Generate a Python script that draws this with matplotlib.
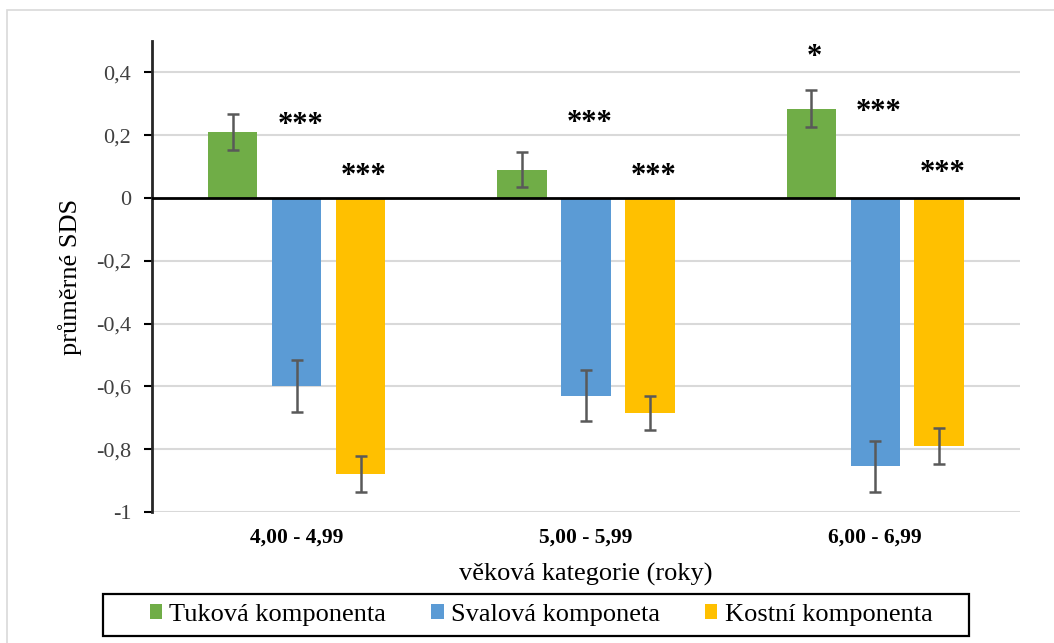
"""Mean SDS of body composition components by age category."""

import matplotlib

matplotlib.use("Agg")
import matplotlib.pyplot as plt
import matplotlib.transforms as mtransforms
import numpy as np
from matplotlib.patches import Patch, Rectangle
from matplotlib.ticker import FuncFormatter

categories = ["4,00 - 4,99", "5,00 - 5,99", "6,00 - 6,99"]
series = ["Tuková komponenta", "Svalová komponeta", "Kostní komponenta"]

fat = [0.21, 0.09, 0.284]
muscle = [-0.60, -0.63, -0.855]
bone = [-0.88, -0.686, -0.79]

fat_err = [0.057, 0.055, 0.059]
muscle_err = [0.083, 0.081, 0.081]
bone_err = [0.057, 0.054, 0.056]

# significance marks and the height they sit at
fat_sig = ["", "", "*"]
fat_sig_y = [0.0, 0.0, 0.47]
muscle_sig = ["***", "***", "***"]
muscle_sig_y = [0.252, 0.258, 0.293]
bone_sig = ["***", "***", "***"]
bone_sig_y = [0.09, 0.09, 0.10]

COLORS = ["#70AD47", "#5B9BD5", "#FFC000"]
SERIF = ["Liberation Serif", "DejaVu Serif"]
plt.rcParams["font.family"] = SERIF

fig = plt.figure(figsize=(10.54, 6.43), dpi=100)
fig.patch.set_facecolor("white")
ax = fig.add_axes([0.1442, 0.2037, 0.8235, 0.7325])

# light frame around the chart area
fig.add_artist(Rectangle((7 / 1054, -0.1), 1.2, 1 - 10 / 643 + 0.1, transform=fig.transFigure,
                         fill=False, edgecolor="#D9D9D9", lw=1.2))

x = np.arange(len(categories))
width = 0.171
offsets = [-0.221, 0.0, 0.221]
values = [fat, muscle, bone]
errors = [fat_err, muscle_err, bone_err]
marks = [fat_sig, muscle_sig, bone_sig]
mark_y = [fat_sig_y, muscle_sig_y, bone_sig_y]

for vals, errs, off, color in zip(values, errors, offsets, COLORS):
    ax.bar(x + off, vals, width, color=color, zorder=2)
    ax.errorbar(x + off, vals, yerr=errs, fmt="none", ecolor="#595959", elinewidth=1.8,
                capsize=4.3, capthick=1.8, zorder=3)

# stars are placed by their glyph centre, which sits about half an em above the baseline
STAR_SIZE = 22
star_tr = mtransforms.offset_copy(ax.transData, fig=fig, y=-0.47 * STAR_SIZE, units="points")
for labels, ys, off in zip(marks, mark_y, offsets):
    for xi, lab, yv in zip(x, labels, ys):
        if lab:
            ax.text(xi + off + 0.012, yv, lab, ha="center", va="baseline", fontsize=STAR_SIZE,
                    weight="bold", color="black", transform=star_tr, zorder=4)

ax.set_xlim(-0.5, 2.5)
ax.set_ylim(-1.0, 0.5)
yticks = [0.4, 0.2, 0.0, -0.2, -0.4, -0.6, -0.8, -1.0]
ax.set_yticks(yticks)
ax.yaxis.set_major_formatter(FuncFormatter(lambda v, _: f"{v:g}".replace(".", ",")))
for t in yticks:
    if t != 0:
        ax.axhline(t, color="#D9D9D9", lw=1.5, zorder=1)
ax.axhline(0, color="black", lw=2.0, zorder=3)

ax.set_xticks(x)
ax.set_xticklabels(categories, fontsize=15.5, weight="bold")
ax.tick_params(axis="x", length=0, pad=11)
ax.tick_params(axis="y", length=6, width=1.5, direction="out", pad=9, labelsize=16,
               labelcolor="#404040")

for side in ["top", "right", "bottom"]:
    ax.spines[side].set_visible(False)
ax.spines["left"].set_linewidth(2.0)
ax.spines["left"].set_color("#262626")

ax.set_ylabel("průměrné SDS", fontsize=19, labelpad=10)
ax.set_xlabel("věková kategorie (roky)", fontsize=19, labelpad=11)

# legend frame drawn separately so its padding can differ horizontally and vertically
fig.add_artist(Rectangle((103 / 1054, 1 - 636 / 643), 866 / 1054, 42 / 643,
                         transform=fig.transFigure, fill=False, edgecolor="black", lw=1.6))
handles = [Patch(facecolor=c, edgecolor="none") for c in COLORS]
fig.legend(handles, series, loc="center", bbox_to_anchor=(541 / 1054, 1 - 615 / 643), ncol=3,
           fontsize=19, frameon=False, handlelength=0.48, handleheight=0.48,
           handletextpad=0.27, columnspacing=1.7, borderpad=0.0)

fig.savefig("out.png", dpi=100, facecolor="white")
